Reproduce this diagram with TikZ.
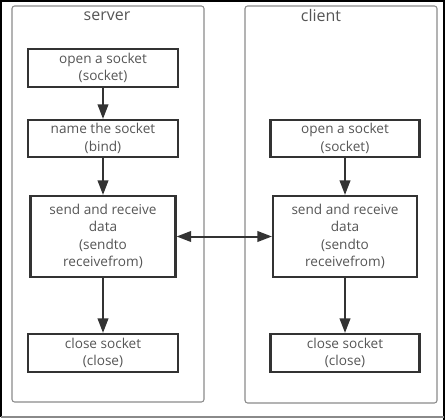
\documentclass[tikz,border=0pt]{standalone}
\usepackage{fontspec}
\setmainfont{Open Sans}
\usetikzlibrary{arrows.meta}
\definecolor{txt}{HTML}{555555}
\definecolor{boxc}{HTML}{333333}
\definecolor{panelc}{HTML}{8A8A8A}
\begin{document}
\begin{tikzpicture}[x=0.75pt,y=-0.75pt,
  stepbox/.style={draw=boxc,line width=1.6pt,rectangle,align=center,text=txt,font=\fontsize{10.2}{13}\selectfont,inner sep=0pt},
  panel/.style={draw=panelc,line width=0.8pt,rounded corners=2pt},
  title/.style={text=txt,font=\fontsize{12}{14}\selectfont,inner sep=0pt},
  arr/.style={draw=boxc,line width=1.5pt,-{Triangle[length=11pt,width=8pt]}},
  darr/.style={draw=boxc,line width=1.5pt,{Triangle[length=11pt,width=8pt]}-{Triangle[length=11pt,width=8pt]}}]
\useasboundingbox (0,0) rectangle (445,420);
% outer frame
\draw[draw=black,line width=1.2pt] (1,417) -- (1,1) -- (444,1) -- (444,420);
\draw[draw=panelc,line width=0.8pt] (1,417) -- (444,417);
% panels
\draw[panel] (12,6) rectangle (204,402);
\draw[panel] (245,6) rectangle (437,403);
\node[title] (ts) at (107,16) {server};
\node[title] (tc) at (321,16) {client};
% server
\node[stepbox,minimum width=150*0.75pt,minimum height=38*0.75pt] (s1) at (103,68) {open a socket\\(socket)};
\node[stepbox,minimum width=150*0.75pt,minimum height=37*0.75pt] (s2) at (103,138.5) {name the socket\\(bind)};
\node[stepbox,minimum width=145*0.75pt,minimum height=81*0.75pt] (s3) at (103,236.5) {send and receive\\data\\(sendto\\receivefrom)};
\node[stepbox,minimum width=150*0.75pt,minimum height=38*0.75pt] (s4) at (103,353) {close socket\\(close)};
% client
\node[stepbox,minimum width=149*0.75pt,minimum height=37*0.75pt] (c1) at (345,138.5) {open a socket\\(socket)};
\node[stepbox,minimum width=144*0.75pt,minimum height=81*0.75pt] (c2) at (345,236.5) {send and receive\\data\\(sendto\\receivefrom)};
\node[stepbox,minimum width=149*0.75pt,minimum height=38*0.75pt] (c3) at (345,353) {close socket\\(close)};
% arrows
\draw[arr] (s1) -- (s2);
\draw[arr] (s2) -- (s3);
\draw[arr] (s3) -- (s4);
\draw[arr] (c1) -- (c2);
\draw[arr] (c2) -- (c3);
\draw[darr] (s3) -- (c2);
\end{tikzpicture}
\end{document}
